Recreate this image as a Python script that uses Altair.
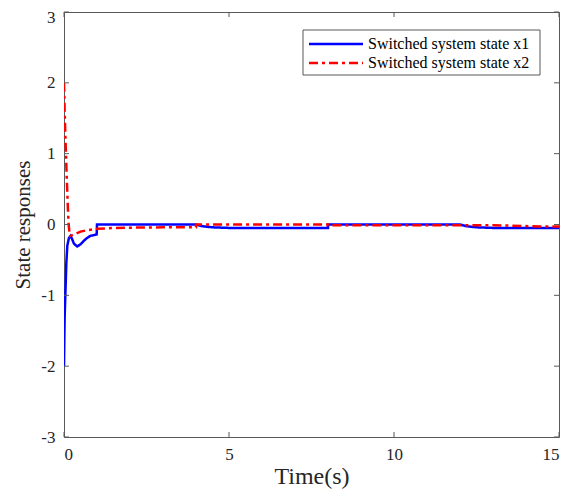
import altair as alt
import pandas as pd

# Switched system state x1 (blue, solid)
t_x1 = [0, 0.01, 0.02, 0.04, 0.07, 0.10, 0.15, 0.20, 0.25, 0.30, 0.40, 0.50, 0.60, 0.70, 0.80, 0.90, 0.99,
        1.0, 4.0, 4.2, 4.5, 5.0, 6.0, 8.0, 8.0, 12.0, 12.2, 12.5, 13.0, 14.0, 15.0]
v_x1 = [-2.0, -1.6, -1.3, -1.0, -0.55, -0.30, -0.19, -0.16, -0.21, -0.27, -0.31, -0.28, -0.23, -0.19, -0.16, -0.15, -0.14,
        0.0, 0.0, -0.025, -0.04, -0.048, -0.05, -0.05, 0.0, 0.0, -0.025, -0.04, -0.048, -0.05, -0.05]

# Switched system state x2 (red, dash-dot)
t_x2 = [0, 0.02, 0.04, 0.06, 0.08, 0.10, 0.12, 0.14, 0.17, 0.19, 0.25, 0.35, 0.5, 0.7, 1.0, 1.5, 2.0, 3.0,
        4.0, 4.0, 8.0, 8.0, 12.0, 13.0, 13.5, 14.2, 15.0]
v_x2 = [2.0, 1.6, 1.25, 1.0, 0.7, 0.45, 0.2, 0.0, -0.13, -0.16, -0.15, -0.13, -0.10, -0.08, -0.06, -0.05, -0.045, -0.04,
        -0.04, 0.0, 0.0, -0.01, -0.01, -0.01, -0.015, -0.025, -0.03]

series_names = ["Switched system state x1", "Switched system state x2"]
x_ticks = [0, 5, 10, 15]
y_ticks = [-3, -2, -1, 0, 1, 2, 3]

rows = []
for i, (t, v) in enumerate(zip(t_x1, v_x1)):
    rows.append({"t": t, "v": v, "series": series_names[0], "ord": i})
for i, (t, v) in enumerate(zip(t_x2, v_x2)):
    rows.append({"t": t, "v": v, "series": series_names[1], "ord": i})
df = pd.DataFrame(rows)

W, H = 495, 425
FONT = "Liberation Serif"
AX = "#595959"

xs = alt.Scale(domain=[0, 15], nice=False, zero=False)
ys = alt.Scale(domain=[-3, 3], nice=False, zero=False)
col = alt.Scale(domain=series_names, range=["#0000ff", "#ff0000"])
dash = alt.Scale(domain=series_names, range=[[1, 0], [9, 4, 3, 4]])

x_axis = alt.Axis(values=x_ticks, labelExpr="'' + datum.value", labelFontSize=17, labelPadding=9,
                  titleFontSize=24, titlePadding=2, tickSize=0, domain=False, grid=False,
                  labelFont=FONT, titleFont=FONT, labelColor="#262626", titleColor="#262626",
                  titleFontWeight="normal")
y_axis = alt.Axis(values=y_ticks, labelExpr="'' + datum.value", labelFontSize=17, labelPadding=9,
                  labelOffset={"condition": {"test": "datum.value === 3", "value": 5}, "value": 0},
                  titleFontSize=21, titlePadding=7, tickSize=0, domain=False, grid=False,
                  labelFont=FONT, titleFont=FONT, labelColor="#262626", titleColor="#262626",
                  titleFontWeight="normal")


def X():
    return alt.X("t:Q", scale=xs, title="Time(s)", axis=x_axis)


def Y():
    return alt.Y("v:Q", scale=ys, title="State responses", axis=y_axis)


lines = alt.Chart(df).mark_line(strokeWidth=2.5, clip=True).encode(
    x=X(),
    y=Y(),
    color=alt.Color("series:N", scale=col, legend=None),
    strokeDash=alt.StrokeDash("series:N", scale=dash, legend=None),
    order=alt.Order("ord:Q"),
    detail="series:N",
)

ydf = pd.DataFrame({"v": y_ticks})
xdf = pd.DataFrame({"t": x_ticks})
tk = dict(color=AX, strokeWidth=1)
yt_left = alt.Chart(ydf).mark_rule(**tk).encode(y=Y(), x=alt.value(0), x2=alt.value(5))
yt_right = alt.Chart(ydf).mark_rule(**tk).encode(y=Y(), x=alt.value(W - 5), x2=alt.value(W))
xt_bot = alt.Chart(xdf).mark_rule(**tk).encode(x=X(), y=alt.value(H), y2=alt.value(H - 5))
xt_top = alt.Chart(xdf).mark_rule(**tk).encode(x=X(), y=alt.value(0), y2=alt.value(5))

# legend (manual)
leg_box = alt.Chart(pd.DataFrame({"a": [0]})).mark_rect(fill="white", stroke=AX, strokeWidth=1).encode(
    x=alt.value(239), x2=alt.value(476), y=alt.value(18), y2=alt.value(63))
leg_lines = []
leg_texts = []
for i, name in enumerate(series_names):
    yy = 32 + 19 * i
    d = pd.DataFrame({"series": [name]})
    leg_lines.append(alt.Chart(d).mark_rule(strokeWidth=2.5).encode(
        x=alt.value(245), x2=alt.value(299), y=alt.value(yy),
        color=alt.Color("series:N", scale=col, legend=None),
        strokeDash=alt.StrokeDash("series:N", scale=dash, legend=None)))
    leg_texts.append(alt.Chart(d).mark_text(align="left", baseline="middle", font=FONT, fontSize=16,
                                            color="#000000").encode(
        x=alt.value(304), y=alt.value(yy), text="series:N"))

chart = alt.layer(lines, yt_left, yt_right, xt_bot, xt_top, leg_box, *leg_lines, *leg_texts).properties(
    width=W, height=H,
    autosize=alt.AutoSizeParams(type="none"),
    padding={"left": 56, "top": 4, "right": 5, "bottom": 52},
).configure_view(stroke=AX, strokeWidth=1).resolve_scale(color="shared", strokeDash="shared")

chart.save("out.html", embed_options={"renderer": "svg", "actions": False})
